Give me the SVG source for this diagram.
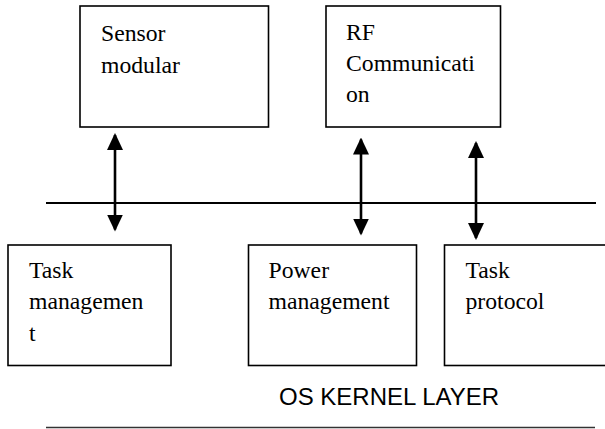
<svg xmlns="http://www.w3.org/2000/svg" width="605" height="429" viewBox="0 0 605 429">
  <style>
    .box { fill: #fff; stroke: #000; stroke-width: 1.6; }
    .lbl { font-family: "Liberation Serif", "Times New Roman", serif; font-size: 23.7px; fill: #000; }
    .layer { font-family: "Liberation Sans", Arial, sans-serif; font-size: 24px; fill: #000; }
    .bus { stroke: #000; stroke-width: 2; }
    .link { stroke: #000; stroke-width: 2.6; fill: none; marker-start: url(#head); marker-end: url(#head); }
  </style>
  <defs>
    <marker id="head" markerUnits="userSpaceOnUse" viewBox="0 0 17 16" refX="15" refY="8" markerWidth="17" markerHeight="16" orient="auto-start-reverse">
      <path d="M0,0 L17,8 L0,16 Z" fill="#000"/>
    </marker>
  </defs>
  <rect width="605" height="429" fill="#fff"/>

  <!-- upper modules -->
  <g id="sensor-modular">
    <rect class="box" x="80" y="6" width="188.5" height="121"/>
    <text class="lbl" x="101" y="41">Sensor</text>
    <text class="lbl" x="101" y="73">modular</text>
  </g>
  <g id="rf-communication">
    <rect class="box" x="326" y="6" width="174.5" height="121"/>
    <text class="lbl" x="346" y="40">RF</text>
    <text class="lbl" x="346" y="71">Communicati</text>
    <text class="lbl" x="346" y="102">on</text>
  </g>

  <!-- kernel modules -->
  <g id="task-management">
    <rect class="box" x="8" y="245" width="163" height="120.5"/>
    <text class="lbl" x="29" y="278">Task</text>
    <text class="lbl" x="29" y="309">managemen</text>
    <text class="lbl" x="29" y="340.5">t</text>
  </g>
  <g id="power-management">
    <rect class="box" x="248.5" y="245" width="168" height="120.5"/>
    <text class="lbl" x="268.5" y="278">Power</text>
    <text class="lbl" x="268.5" y="309">management</text>
  </g>
  <g id="task-protocol">
    <rect class="box" x="444.5" y="245" width="170" height="120.5"/>
    <text class="lbl" x="465.5" y="278">Task</text>
    <text class="lbl" x="465.5" y="309">protocol</text>
  </g>

  <g id="kernel-layer">
    <text class="layer" x="279" y="405">OS KERNEL LAYER</text>
    <line x1="46" y1="427.5" x2="595" y2="427.5" stroke="#333" stroke-width="1.4"/>
  </g>

  <!-- interface bus and links -->
  <g id="connectors">
    <line class="bus" x1="46" y1="203" x2="596" y2="203"/>
    <line class="link" x1="115" y1="135" x2="115" y2="229.5"/>
    <line class="link" x1="361" y1="139.5" x2="361" y2="233.5"/>
    <line class="link" x1="476" y1="143" x2="476" y2="238"/>
  </g>
</svg>
